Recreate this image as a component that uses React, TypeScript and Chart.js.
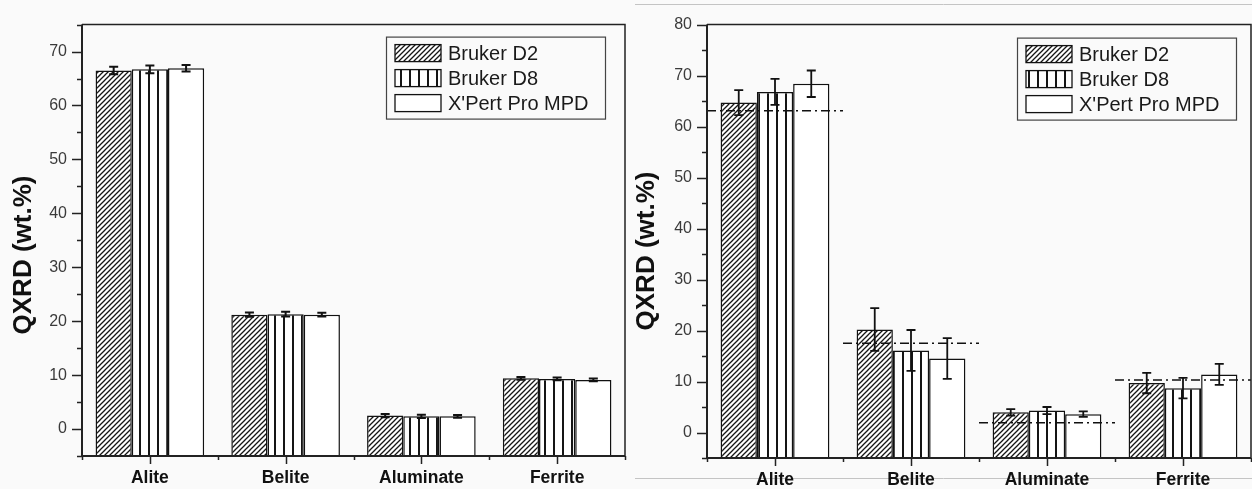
import React, { useEffect, useRef } from 'react';
import { Chart, registerables } from 'chart.js';

Chart.register(...registerables);

const FONT = "'Liberation Sans', Arial, sans-serif";

const categories = ['Alite', 'Belite', 'Aluminate', 'Ferrite'];
const seriesNames = ['Bruker D2', 'Bruker D8', "X'Pert Pro MPD"];
const yTitle = 'QXRD (wt.%)';

// Left panel
const leftD2 = [66.5, 21.2, 2.5, 9.4];
const leftD8 = [66.7, 21.3, 2.35, 9.3];
const leftXP = [66.9, 21.2, 2.35, 9.1];
const leftD2Err = [0.7, 0.4, 0.3, 0.25];
const leftD8Err = [0.7, 0.45, 0.3, 0.25];
const leftXPErr = [0.6, 0.35, 0.25, 0.25];
const leftYTicks = [0, 10, 20, 30, 40, 50, 60, 70];
const leftYMinor = [-5, 5, 15, 25, 35, 45, 55, 65, 75];

// Right panel
const rightD2 = [64.7, 20.2, 3.95, 9.7];
const rightD8 = [66.8, 16.1, 4.3, 8.7];
const rightXP = [68.4, 14.5, 3.6, 11.4];
const rightD2Err = [2.45, 4.2, 0.65, 2.0];
const rightD8Err = [2.55, 4.0, 0.7, 2.0];
const rightXPErr = [2.6, 4.0, 0.55, 2.05];
const rightReference = [63.1, 17.5, 1.9, 10.3];
const rightYTicks = [0, 10, 20, 30, 40, 50, 60, 70, 80];
const rightYMinor = [-5, 5, 15, 25, 35, 45, 55, 65, 75];

function makeHatch(): CanvasPattern {
  const n = 5;
  const c = document.createElement('canvas');
  c.width = n;
  c.height = n;
  const g = c.getContext('2d')!;
  g.fillStyle = '#ffffff';
  g.fillRect(0, 0, n, n);
  g.strokeStyle = '#151515';
  g.lineWidth = 1.3;
  g.beginPath();
  g.moveTo(-1, n + 1);
  g.lineTo(n + 1, -1);
  g.moveTo(-1, 1);
  g.lineTo(1, -1);
  g.moveTo(n - 1, n + 1);
  g.lineTo(n + 1, n - 1);
  g.stroke();
  return g.createPattern(c, 'repeat')!;
}

function makeVertical(): CanvasPattern {
  const c = document.createElement('canvas');
  c.width = 9;
  c.height = 4;
  const g = c.getContext('2d')!;
  g.fillStyle = '#ffffff';
  g.fillRect(0, 0, 9, 4);
  g.fillStyle = '#151515';
  g.fillRect(4, 0, 2, 4);
  return g.createPattern(c, 'repeat')!;
}

const panelDecor = {
  id: 'panelDecor',
  beforeDraw(chart: any, _args: any, opts: any) {
    const ctx = chart.ctx;
    if (opts.frameLines) {
      ctx.save();
      ctx.strokeStyle = '#c4c4c4';
      ctx.lineWidth = 1;
      for (const y of opts.frameLines.ys) {
        ctx.beginPath();
        ctx.moveTo(opts.frameLines.x0, y);
        ctx.lineTo(chart.width, y);
        ctx.stroke();
      }
      ctx.restore();
    }
  },
  afterDatasetsDraw(chart: any, _args: any, opts: any) {
    const ctx = chart.ctx;
    const xs = chart.scales.x;
    const ys = chart.scales.y;
    const area = chart.chartArea;

    // error bars
    ctx.save();
    ctx.strokeStyle = '#111';
    ctx.lineWidth = opts.errWidth;
    chart.data.datasets.forEach((ds: any, d: number) => {
      const meta = chart.getDatasetMeta(d);
      const errs = opts.errors[d];
      meta.data.forEach((el: any, i: number) => {
        const v = ds.data[i];
        const e = errs[i];
        const yt = ys.getPixelForValue(v + e);
        const yb = ys.getPixelForValue(v - e);
        const cw = opts.capHalf;
        ctx.beginPath();
        ctx.moveTo(el.x, yt);
        ctx.lineTo(el.x, yb);
        ctx.moveTo(el.x - cw, yt);
        ctx.lineTo(el.x + cw, yt);
        ctx.moveTo(el.x - cw, yb);
        ctx.lineTo(el.x + cw, yb);
        ctx.stroke();
      });
    });
    ctx.restore();

    // reference dash-dot lines
    if (opts.reference) {
      const catW = (xs.right - xs.left) / categories.length;
      ctx.save();
      ctx.strokeStyle = '#111';
      ctx.lineWidth = 1.5;
      ctx.setLineDash([9, 4, 2, 4]);
      opts.reference.forEach((v: number, i: number) => {
        const cx = xs.getPixelForValue(i);
        const y = ys.getPixelForValue(v);
        ctx.beginPath();
        ctx.moveTo(cx - catW / 2, y);
        ctx.lineTo(cx + catW / 2, y);
        ctx.stroke();
      });
      ctx.restore();
    }

    // frame
    ctx.save();
    ctx.strokeStyle = '#222';
    ctx.lineWidth = 1.5;
    ctx.beginPath();
    ctx.moveTo(area.left, area.top);
    ctx.lineTo(area.right, area.top);
    ctx.lineTo(area.right, area.bottom);
    ctx.stroke();
    ctx.lineWidth = 2;
    ctx.beginPath();
    ctx.moveTo(area.left, area.top);
    ctx.lineTo(area.left, area.bottom);
    ctx.lineTo(area.right, area.bottom);
    ctx.stroke();

    // y ticks
    ctx.lineWidth = 1.5;
    ctx.beginPath();
    for (const v of opts.yMajor) {
      const y = Math.round(ys.getPixelForValue(v)) + 0.5;
      ctx.moveTo(area.left - 10, y);
      ctx.lineTo(area.left, y);
    }
    for (const v of opts.yMinor) {
      const y = Math.round(ys.getPixelForValue(v)) + 0.5;
      ctx.moveTo(area.left - 5, y);
      ctx.lineTo(area.left, y);
    }
    // x ticks
    const catW = (xs.right - xs.left) / categories.length;
    categories.forEach((_c, i) => {
      const cx = Math.round(xs.getPixelForValue(i)) + 0.5;
      ctx.moveTo(cx, area.bottom);
      ctx.lineTo(cx, area.bottom + 8);
    });
    for (let i = 0; i <= categories.length; i++) {
      const bx = Math.round(xs.left + i * catW) + 0.5;
      ctx.moveTo(bx, area.bottom);
      ctx.lineTo(bx, area.bottom + 4);
    }
    ctx.stroke();
    ctx.restore();

    // legend
    const lg = opts.legend;
    const bw = 219;
    const bh = 82;
    const bx = area.right - lg.rightInset - bw;
    const by = area.top + lg.topInset;
    ctx.save();
    ctx.strokeStyle = '#444';
    ctx.lineWidth = 1.2;
    ctx.strokeRect(bx + 0.5, by + 0.5, bw, bh);
    chart.data.datasets.forEach((ds: any, d: number) => {
      const cy = by + 16.5 + d * 25;
      const sx = bx + 9;
      ctx.fillStyle = ds.backgroundColor;
      ctx.fillRect(sx, cy - 8.5, 46, 17);
      ctx.strokeStyle = '#111';
      ctx.lineWidth = 1.3;
      ctx.strokeRect(sx, cy - 8.5, 46, 17);
      ctx.fillStyle = '#1a1a1a';
      ctx.font = `20px ${FONT}`;
      ctx.textAlign = 'left';
      ctx.textBaseline = 'middle';
      ctx.fillText(ds.label, sx + 53, cy + 1);
    });
    ctx.restore();

    // y title
    ctx.save();
    ctx.translate(opts.title.x, opts.title.y);
    ctx.rotate(-Math.PI / 2);
    ctx.font = `bold 26px ${FONT}`;
    ctx.fillStyle = '#111';
    ctx.textAlign = 'center';
    ctx.textBaseline = 'middle';
    ctx.fillText(yTitle, 0, 0);
    ctx.restore();
  },
};

function buildConfig(
  series: number[][],
  errs: number[][],
  yMax: number,
  yMajor: number[],
  yMinor: number[],
  axisW: number,
  xAxisH: number,
  padTop: number,
  padRight: number,
  extra: any
): any {
  const fills = [makeHatch(), makeVertical(), '#ffffff'];
  return {
    type: 'bar',
    data: {
      labels: categories,
      datasets: series.map((s, i) => ({
        label: seriesNames[i],
        data: s,
        base: -5,
        backgroundColor: fills[i],
        borderColor: '#111',
        borderWidth: 1.5,
        categoryPercentage: 0.8,
        barPercentage: 1,
      })),
    },
    options: {
      animation: false,
      responsive: false,
      maintainAspectRatio: false,
      layout: { padding: { top: padTop, right: padRight, left: 0, bottom: 0 } },
      scales: {
        x: {
          offset: true,
          grid: { display: false, drawTicks: false },
          border: { display: false },
          ticks: {
            color: '#111',
            padding: 12,
            font: { family: FONT, size: 17.5, weight: 'bold' },
          },
          afterFit: (s: any) => {
            s.height = xAxisH;
          },
        },
        y: {
          min: -5,
          max: yMax,
          grid: { display: false, drawTicks: false },
          border: { display: false },
          ticks: {
            color: '#3a3a3a',
            padding: 15,
            font: { family: FONT, size: 16 },
          },
          afterBuildTicks: (s: any) => {
            s.ticks = yMajor.map((value) => ({ value }));
          },
          afterFit: (s: any) => {
            s.width = axisW;
          },
        },
      },
      plugins: {
        legend: { display: false },
        tooltip: { enabled: false },
        panelDecor: { errors: errs, yMajor, yMinor, ...extra },
      },
    },
    plugins: [panelDecor],
  };
}

export default function App() {
  const leftRef = useRef<HTMLCanvasElement>(null);
  const rightRef = useRef<HTMLCanvasElement>(null);

  useEffect(() => {
    document.body.style.margin = '0';
    document.body.style.background = '#fafafa';
    const left = new Chart(
      leftRef.current!,
      buildConfig(
        [leftD2, leftD8, leftXP],
        [leftD2Err, leftD8Err, leftXPErr],
        75,
        leftYTicks,
        leftYMinor,
        82,
        33,
        12,
        3,
        {
          errWidth: 2,
          capHalf: 4.5,
          legend: { rightInset: 20, topInset: 12 },
          title: { x: 24, y: 255 },
        }
      )
    );
    const right = new Chart(
      rightRef.current!,
      buildConfig(
        [rightD2, rightD8, rightXP],
        [rightD2Err, rightD8Err, rightXPErr],
        80,
        rightYTicks,
        rightYMinor,
        79,
        31,
        13,
        1,
        {
          errWidth: 1.8,
          capHalf: 4.5,
          reference: rightReference,
          legend: { rightInset: 15, topInset: 13 },
          title: { x: 19, y: 251 },
          frameLines: { x0: 7, ys: [4.5, 478.5] },
        }
      )
    );
    return () => {
      left.destroy();
      right.destroy();
    };
  }, []);

  return (
    <div style={{ position: 'relative', width: 1252, height: 489, background: '#fafafa', overflow: 'hidden' }}>
      <canvas ref={leftRef} width={628} height={489} style={{ position: 'absolute', left: 0, top: 0 }} />
      <canvas ref={rightRef} width={624} height={489} style={{ position: 'absolute', left: 628, top: 0 }} />
    </div>
  );
}
